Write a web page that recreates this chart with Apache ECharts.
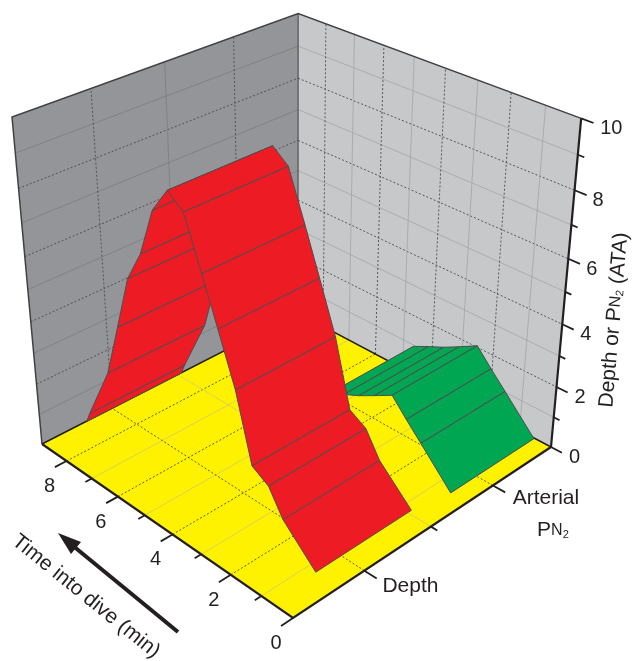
<!DOCTYPE html><html><head><meta charset="utf-8"><style>html,body{margin:0;padding:0;background:#fff}#c{width:637px;height:661px}</style>
<script src="https://cdn.jsdelivr.net/npm/echarts@6/dist/echarts.min.js"></script></head><body><div id="c"></div><script>
// ---- data ----
const timeTickLabels = [0, 2, 4, 6, 8];
const zTickLabels = [0, 2, 4, 6, 8, 10];
const depthTimes = [0, 1.02, 1.47, 1.99, 2.48, 3, 3.47, 4, 4.5, 5.03, 5.52, 6.03, 6.51, 7, 7.84, 7.99];
const depthValues = [0.97, 1.93, 2.67, 2.97, 4.93, 6.4, 7.71, 9.13, 9.5, 8.75, 7.33, 6.39, 4.72, 3.05, 1.3, 0.95];
const pn2Times = [0, 0.98, 1.46, 1.93, 2.5, 3, 3.5, 4.01];
const pn2Values = [0.7, 1.72, 2.21, 2.72, 2.4, 2.13, 1.9, 1.65];
const depthBand = [0.077, 0.42];
const pn2Band = [0.573, 0.917];
const TMAX = 9, ZMAX = 10;

// ---- view: perspective camera of the 3D box, from its corners on the page ----
const F=[293,618],L=[42,444],R=[551,447],B=[298,313],V=[296.5,3219],topLeftY=117;
const det=(a,b,c)=>a[0]*(b[1]*c[2]-b[2]*c[1])-a[1]*(b[0]*c[2]-b[2]*c[0])+a[2]*(b[0]*c[1]-b[1]*c[0]);
const h=p=>[p[0],p[1],1];
const l=h(L),r=h(R),f=h(F),b=h(B),mf=f.map(x=>-x),D=det(l,r,mf);
const a1=det(b,r,mf)/D,a2=det(l,b,mf)/D,a0=det(l,r,b)/D;
const p4=f.map(x=>x*a0),p1=l.map((x,i)=>x*a1-p4[i]),p2=r.map((x,i)=>x*a2-p4[i]);
const kz=(topLeftY-L[1])*a1/(V[1]-topLeftY),p3=h(V).map(x=>x*kz);
function P(t,v,z){const u=t/TMAX,w=z/ZMAX;const c=[0,1,2].map(i=>u*p1[i]+v*p2[i]+w*p3[i]+p4[i]);return [c[0]/c[2],c[1]/c[2]];}

// ---- mark lists ----
const COL={left:'#939598',right:'#c7c8ca',floor:'#fff200',red:'#ed1c24',green:'#00a651',edge:'#4d4d4f',ink:'#231f20'};
const poly=(pts,fill,stroke,lw)=>({k:'poly',pts,fill,stroke,lw});
const line=(pts,stroke,lw,dash)=>({k:'line',pts,stroke,lw,dash});
const frame=[];
frame.push(poly([P(0,1,0),P(9,1,0),P(9,1,10),P(0,1,10)],COL.right));
frame.push(poly([P(9,0,0),P(9,1,0),P(9,1,10),P(9,0,10)],COL.left));
frame.push(poly([P(0,0,0),P(9,0,0),P(9,1,0),P(0,1,0)],COL.floor));
const DASH='#4a4b4d', lightL='#7b7c7f', lightR='#a2a4a7', lightF='#cfc86a';
for(let z=1;z<ZMAX;z++){const even=z%2===0;
  frame.push(line([P(9,0,z),P(9,1,z)],even?DASH:lightL,even?0.9:0.8,even));
  frame.push(line([P(9,1,z),P(0,1,z)],even?DASH:lightR,even?0.9:0.8,even));}
for(let t=1;t<TMAX;t++){const even=t%2===0;
  frame.push(line([P(t,1,0),P(t,1,10)],even?DASH:lightR,even?0.9:0.8,even));
  frame.push(line([P(t,0,0),P(t,1,0)],even?DASH:lightF,even?0.9:0.8,even));}
[0.25,0.5,0.75].forEach((v,i)=>{const even=i!==1;
  frame.push(line([P(9,v,0),P(9,v,10)],even?DASH:lightL,even?0.9:0.8,even));
  frame.push(line([P(0,v,0),P(9,v,0)],even?DASH:lightF,even?0.9:0.8,even));});
frame.push(line([P(9,0,0),P(9,0,10),P(9,1,10),P(0,1,10)],'#414042',1.5));
frame.push(line([P(9,1,0),P(9,1,10)],'#414042',1));
frame.push(line([P(9,0,0),P(9,1,0),P(0,1,0)],'#231f20',1.5));

function ribbon(times,vals,band,fill){const out=[];
  for(let i=times.length-2;i>=0;i--){
    out.push(poly([P(times[i],band[0],vals[i]),P(times[i+1],band[0],vals[i+1]),P(times[i+1],band[1],vals[i+1]),P(times[i],band[1],vals[i])],fill,COL.edge,1));
  }
  return out;}
const green=ribbon(pn2Times,pn2Values,pn2Band,COL.green);
const red=ribbon(depthTimes,depthValues,depthBand,COL.red);

const axes=[];
axes.push(line([P(9,0,0),P(0,0,0),P(0,1,0)],COL.ink,2.2));
axes.push(line([P(0,1,0),P(0,1,10)],COL.ink,2.2));
for(let t=0;t<=8;t++){axes.push(line([P(t,0,0),P(t,t%2===0?-0.04:-0.022,0)],COL.ink,1.8));}
[[0.25,.38],[0.5,.2],[0.75,.38]].forEach(([v,d])=>axes.push(line([P(0,v,0),P(-d,v,0)],COL.ink,1.8)));
for(let z=0;z<=10;z++){axes.push(line([P(0,1,z),P(z%2===0?-.34:-.18,1,z)],COL.ink,1.8));}

const txt=(x,y,text,o)=>Object.assign({k:'text',x,y,text},o||{});
const labels=[];
timeTickLabels.forEach(t=>{const p=P(t,0,0);labels.push(txt(p[0]-17,p[1]+25.5,String(t)));});
zTickLabels.forEach(z=>{const p=P(0,1,z);labels.push(txt(p[0]+(z===10?19:18),p[1]+10.5,String(z),{align:'left'}));});
labels.push(txt(P(0,0.25,0)[0]+46,P(0,0.25,0)[1]+15.5,'Depth',{size:21}));
labels.push(txt(P(0,0.75,0)[0]+53,P(0,0.75,0)[1]+13,'Arterial',{size:21}));
labels.push(txt(P(0,0.75,0)[0]+60,P(0,0.75,0)[1]+45,'{a|P}{n|N}{s|2}',{rich:true}));
labels.push(txt(614,320,'{a|Depth or P}{n|N}{s|2}{a| (ATA)}',{rich:true,rot:1.484}));
labels.push(txt(86,596.5,'Time into dive (min)',{rot:-0.68,size:21}));

// ---- ECharts ----
const richStyle={a:{fontSize:21,fontFamily:'Liberation Sans',color:COL.ink},n:{fontSize:16,fontFamily:'Liberation Sans',color:COL.ink},s:{fontSize:11,fontFamily:'Liberation Sans',color:COL.ink,padding:[8,0,0,0]}};
function renderer(list){return function(params,api){
  const m=list[api.value(0)];
  if(m.k==='text'){const c=api.coord([m.x,m.y]);
    const style={text:m.text,fill:COL.ink,font:(m.size||20)+'px "Liberation Sans"',align:m.align||'center',verticalAlign:'middle'};
    if(m.rich) style.rich=richStyle;
    return {type:'text',x:c[0],y:c[1],rotation:m.rot||0,style,silent:true};}
  const pts=m.pts.map(p=>api.coord(p));
  if(m.k==='poly') return {type:'polygon',shape:{points:pts},style:{fill:m.fill,stroke:m.stroke||null,lineWidth:m.lw||0,lineJoin:'round'},silent:true};
  return {type:'polyline',shape:{points:pts},style:{fill:null,stroke:m.stroke,lineWidth:m.lw,lineDash:m.dash?[2,2]:null},silent:true};
};}
const mk=(list,z)=>({type:'custom',coordinateSystem:'cartesian2d',z,clip:false,silent:true,animation:false,renderItem:renderer(list),data:list.map((_,i)=>[i]),encode:{x:0,y:0}});
const chart=echarts.init(document.getElementById('c'),null,{renderer:'canvas',width:637,height:661});
chart.setOption({
  animation:false,
  grid:{left:0,right:0,top:0,bottom:0},
  xAxis:{type:'value',min:0,max:637,show:false},
  yAxis:{type:'value',min:0,max:661,inverse:true,show:false},
  series:[mk(frame,1),mk(green,2),mk(red,3),mk(axes,4),mk(labels,5)],
  graphic:[
    {type:'line',shape:{x1:178,y1:632,x2:72,y2:545},style:{stroke:COL.ink,lineWidth:4},z:6},
    {type:'polygon',shape:{points:[[58,533],[81,542],[71,554]]},style:{fill:COL.ink},z:6}
  ]
});
</script></body></html>
